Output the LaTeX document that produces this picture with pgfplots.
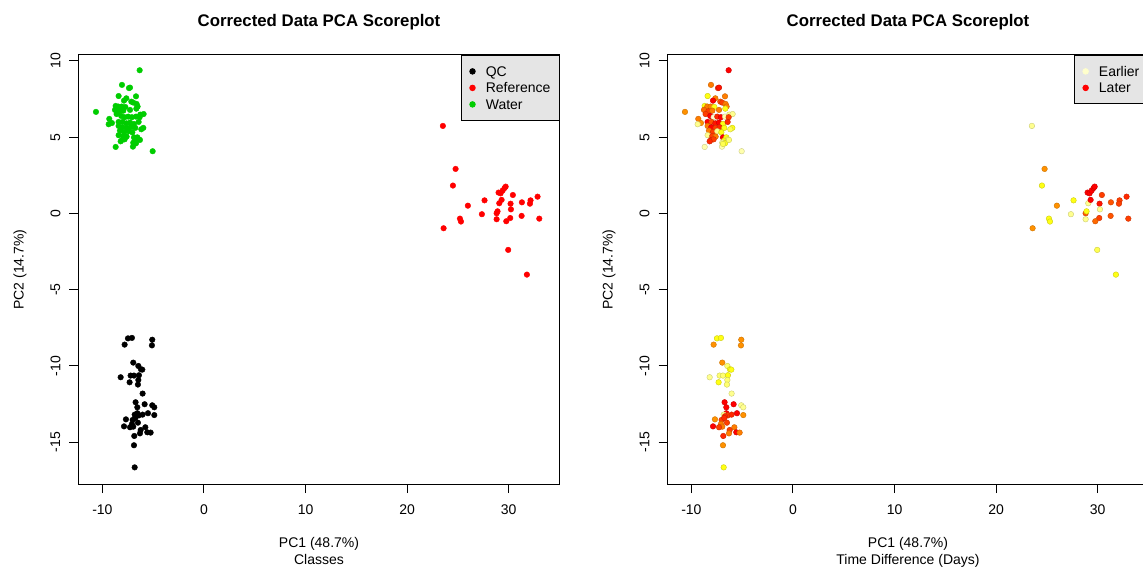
\documentclass[border=0pt]{standalone}
\usepackage{fontspec}
\setmainfont{Liberation Sans}
\usepackage{pgfplots}
\usepackage{pgfplotstable}
\pgfplotsset{compat=1.18}

\definecolor{gray90}{HTML}{E5E5E5}
\definecolor{green3}{HTML}{00CD00}
\definecolor{early}{RGB}{255,255,204}

% PCA scores: x = PC1, y = PC2, t = relative acquisition time (0 = earliest, 1 = latest)
\pgfplotstableread{
x y t
-7.48 -8.19 0.3
-7.09 -8.16 0.3
-7.81 -8.60 0.65
-5.09 -8.28 0.65
-5.12 -8.65 0.65
-6.96 -9.78 0.65
-6.46 -10.00 0.15
-6.20 -10.22 0.3
-6.07 -10.24 0.3
-8.20 -10.74 0.1
-7.22 -10.63 0.15
-6.89 -10.63 0.15
-6.40 -10.61 0.3
-6.46 -10.92 0.15
-7.32 -11.07 0.3
-6.50 -11.22 0.15
-6.04 -11.81 0.1
-6.73 -12.38 1.0
-5.84 -12.51 1.0
-6.56 -12.71 1.0
-5.09 -12.58 0.1
-4.89 -12.71 0.1
-6.56 -13.10 1.0
-6.82 -13.19 0.1
-6.40 -13.24 0.85
-6.69 -13.30 0.9
-6.04 -13.19 0.9
-5.51 -13.10 1.0
-4.89 -13.22 0.65
-7.68 -13.50 0.65
-7.02 -13.54 0.85
-6.76 -13.41 0.9
-6.50 -13.72 0.85
-7.09 -13.81 0.7
-7.87 -13.96 1.0
-6.96 -13.98 0.7
-7.28 -14.02 0.85
-5.77 -14.02 0.7
-6.23 -14.20 0.85
-6.30 -14.42 0.7
-5.58 -14.35 1.0
-5.25 -14.37 0.7
-6.86 -14.59 0.9
-6.89 -15.20 0.65
-6.82 -16.65 0.3
}\qcdata

\pgfplotstableread{
x y t
23.52 5.74 0.1
24.77 2.92 0.65
24.51 1.83 0.3
23.59 -0.97 0.65
25.20 -0.34 0.3
25.30 -0.53 0.3
25.98 0.51 0.65
27.36 -0.05 0.1
27.62 0.86 0.3
28.81 0.01 0.8
28.90 0.14 0.3
28.81 -0.38 0.1
29.07 0.67 0.1
29.30 0.89 1.0
29.00 1.37 1.0
29.20 1.32 1.0
29.40 1.50 1.0
29.60 1.67 1.0
29.70 1.76 1.0
30.41 1.21 0.85
30.18 0.64 0.95
30.22 0.27 0.1
30.15 -0.30 0.85
29.76 -0.51 0.75
31.30 0.73 0.8
31.27 -0.16 0.8
32.15 0.86 0.85
32.09 0.64 0.85
32.84 1.10 0.9
33.01 -0.34 0.85
29.95 -2.39 0.2
31.79 -4.01 0.3
}\refdata

\pgfplotstableread{
x y t
-6.33 9.39 1.0
-8.07 8.43 0.7
-7.38 8.22 0.9
-7.28 8.25 0.95
-8.40 7.70 0.3
-6.69 7.68 0.7
-7.64 7.55 0.7
-7.87 7.40 1.0
-7.15 7.33 0.8
-6.96 7.27 0.85
-6.63 7.18 0.7
-6.53 7.01 0.7
-10.63 6.66 0.65
-8.69 7.05 0.3
-8.43 7.01 0.7
-8.10 7.01 0.7
-7.74 6.98 0.3
-8.76 6.79 0.75
-8.33 6.70 0.85
-7.94 6.74 0.7
-7.28 6.79 0.7
-6.66 6.87 0.3
-6.27 6.48 0.1
-5.94 6.52 0.1
-9.32 6.20 0.7
-9.06 5.93 0.65
-9.38 5.85 0.1
-8.60 6.52 0.85
-8.14 6.39 1.0
-7.81 6.31 0.0
-7.45 6.35 0.9
-7.09 6.31 1.0
-6.69 6.35 0.05
-6.33 6.31 0.85
-8.40 6.00 1.0
-8.01 6.00 0.8
-7.64 5.91 0.95
-7.28 5.96 1.0
-6.89 5.87 0.3
-6.43 6.00 0.9
-8.40 5.74 0.7
-8.04 5.65 1.0
-7.61 5.61 0.85
-7.22 5.65 0.9
-6.76 5.61 0.3
-5.97 5.61 0.3
-6.17 5.52 0.2
-8.27 5.43 0.7
-7.87 5.34 0.85
-7.45 5.39 0.1
-7.05 5.32 0.3
-8.40 5.13 0.1
-7.94 5.08 0.85
-7.61 5.04 0.7
-6.89 4.99 1.0
-6.56 4.99 0.3
-8.07 4.82 0.9
-7.81 4.86 0.85
-6.79 4.77 0.3
-6.40 4.86 0.2
-8.20 4.73 0.9
-6.96 4.64 0.1
-6.69 4.60 0.3
-6.30 4.82 0.15
-8.69 4.36 0.05
-6.99 4.38 0.05
-6.89 4.56 0.2
-5.05 4.08 0.05
}\waterdata

\pgfplotsset{
  scoreplot/.style={
    width=481pt, height=429pt, scale only axis,
    xmin=-12.35, xmax=35.0, ymin=-17.74, ymax=10.39,
    xtick={-10,0,10,20,30}, xticklabels={-10,0,10,20,30},
    ytick={-15,-10,-5,0,5,10}, yticklabels={-15,-10,-5,0,5,10},
    xtick pos=left, ytick pos=left,
    tick align=outside, major tick length=9pt,
    minor tick num=0,
    tick style={black, line width=1pt},
    axis line style={black, line width=1pt},
    tick label style={font=\fontsize{14}{16}\selectfont},
    xticklabel style={anchor=base, yshift=-21pt},
    yticklabel style={xshift=-14pt, rotate=90, anchor=center},
    label style={font=\fontsize{14}{17}\selectfont},
    xlabel style={at={(axis description cs:0.5,-0.1865)}, anchor=base, align=center},
    ylabel style={at={(axis description cs:-0.1216,0.5)}, anchor=center},
    ylabel={PC2 (14.7\%)},
    title={Corrected Data PCA Scoreplot},
    title style={at={(axis description cs:0.5,1.0513)}, anchor=base,
      font=\bfseries\fontsize{16.8}{20}\selectfont},
    legend cell align=left,
    legend style={at={(1,1)}, anchor=north east, draw=black, line width=0.8pt,
      fill=gray90, font=\fontsize{14}{16}\selectfont,
      inner xsep=8.7pt, inner ysep=7.75pt, row sep=0pt, column sep=10.5pt,
      nodes={inner sep=0pt, text height=13.25pt, text depth=3.25pt}},
    legend image code/.code={\draw[#1] plot coordinates {(0pt,0pt)};},
    every axis plot/.append style={mark=*, only marks, mark size=2.8pt},
  }
}

\begin{document}
\begin{tikzpicture}
% classes
\begin{axis}[scoreplot, at={(78.5pt,84pt)}, anchor=south west,
    xlabel={PC1 (48.7\%)\\Classes}]
  \addplot[black, fill=black] table[x=x, y=y] {\qcdata};
  \addlegendentry{QC}
  \addplot[red, fill=red] table[x=x, y=y] {\refdata};
  \addlegendentry{Reference}
  \addplot[green3, fill=green3] table[x=x, y=y] {\waterdata};
  \addlegendentry{Water}
\end{axis}
% time difference
\begin{axis}[scoreplot, at={(667.5pt,84pt)}, anchor=south west,
    xlabel={PC1 (48.7\%)\\Time Difference (Days)},
    point meta min=0, point meta max=1,
    colormap={timecol}{rgb255=(255,255,204) rgb255=(255,255,0) rgb255=(255,140,0) rgb255=(255,0,0)}]
  \addplot[scatter, scatter src=explicit, forget plot] table[x=x, y=y, meta=t] {\qcdata};
  \addplot[scatter, scatter src=explicit, forget plot] table[x=x, y=y, meta=t] {\refdata};
  \addplot[scatter, scatter src=explicit, forget plot] table[x=x, y=y, meta=t] {\waterdata};
  \addlegendimage{only marks, mark=*, mark size=2.8pt, early, fill=early}
  \addlegendentry{Earlier}
  \addlegendimage{only marks, mark=*, mark size=2.8pt, red, fill=red}
  \addlegendentry{Later}
\end{axis}
\pgfresetboundingbox
\useasboundingbox (0pt,0pt) rectangle (1143pt,568pt);
\end{tikzpicture}
\end{document}
